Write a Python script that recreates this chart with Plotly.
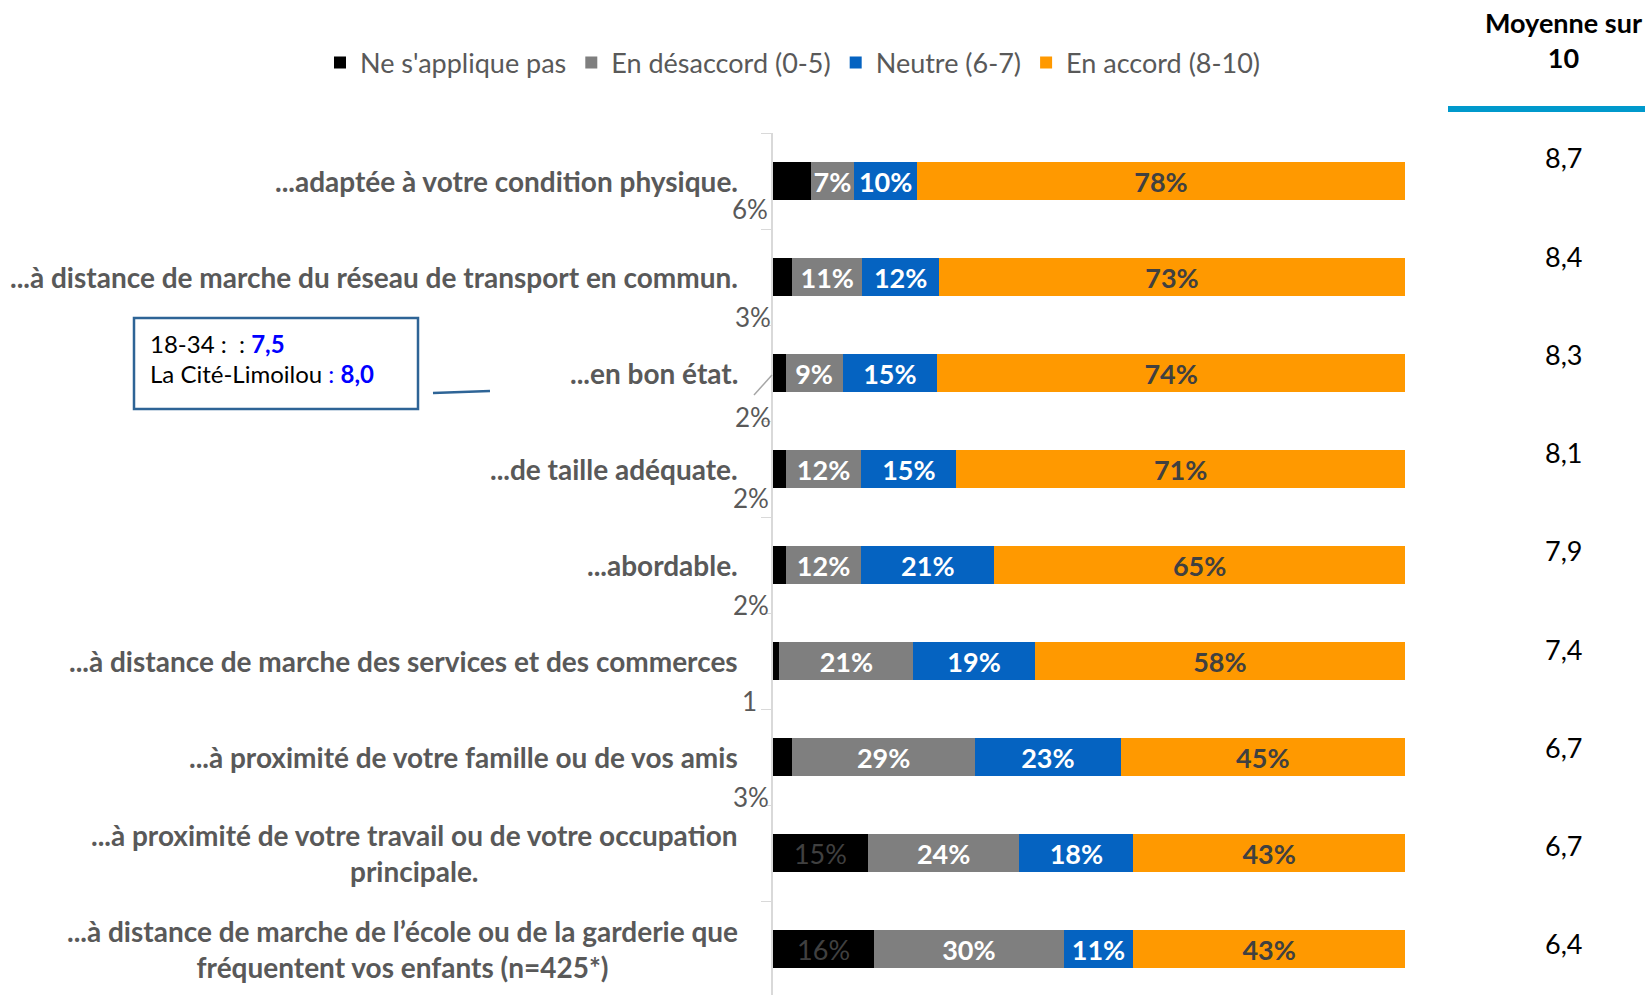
import plotly.graph_objects as go

W, H = 1645, 995

categories = [
    "...adaptée à votre condition physique.",
    "...à distance de marche du réseau de transport en commun.",
    "...en bon état.",
    "...de taille adéquate.",
    "...abordable.",
    "...à distance de marche des services et des commerces",
    "...à proximité de votre famille ou de vos amis",
    "...à proximité de votre travail ou de votre occupation<br>principale.",
    "...à distance de marche de l’école ou de la garderie que<br>fréquentent vos enfants (n=425*)",
]
ne_applique_pas = [6, 3, 2, 2, 2, 1, 3, 15, 16]
en_desaccord = [7, 11, 9, 12, 12, 21, 29, 24, 30]
neutre = [10, 12, 15, 15, 21, 19, 23, 18, 11]
en_accord = [78, 73, 74, 71, 65, 58, 45, 43, 43]
moyenne = ["8,7", "8,4", "8,3", "8,1", "7,9", "7,4", "6,7", "6,7", "6,4"]
# labels of the black segment shown outside the bar (as in the source)
ne_outside_labels = ["6%", "3%", "2%", "2%", "2%", "1", "3%", "", ""]
ne_inside_labels = ["", "", "", "", "", "", "", "15%", "16%"]

series_names = ["Ne s'applique pas", "En désaccord (0-5)", "Neutre (6-7)", "En accord (8-10)"]
colors = ["#000000", "#7F7F7F", "#0563C1", "#FF9900"]

FONT = "Lato"
GREY_TXT = "#595959"


def px(x):
    return x / W


def py(y):
    return 1 - y / H


fig = go.Figure()

data = [ne_applique_pas, en_desaccord, neutre, en_accord]
texts = [
    ne_inside_labels,
    [f"{v}%" for v in en_desaccord],
    [f"{v}%" for v in neutre],
    [f"{v}%" for v in en_accord],
]
txt_fonts = [
    dict(family=FONT, size=27, color="#404040"),
    dict(family=FONT, size=27, color="white"),
    dict(family=FONT, size=27, color="white"),
    dict(family=FONT, size=27, color="#404040"),
]
for i, (name, vals) in enumerate(zip(series_names, data)):
    fig.add_trace(go.Bar(
        y=categories, x=vals, name=name, orientation="h",
        marker=dict(color=colors[i], line=dict(width=0)),
        text=texts[i], textposition="inside", insidetextanchor="middle",
        textangle=0, constraintext="none",
        texttemplate=("%{text}" if i == 0 else "<b>%{text}</b>"),
        insidetextfont=txt_fonts[i],
        hoverinfo="skip",
    ))

plot_top = 133
fig.update_layout(
    width=W, height=H,
    barmode="stack", barnorm="percent", bargap=0.6,
    margin=dict(l=0, r=0, t=0, b=0),
    paper_bgcolor="white", plot_bgcolor="white",
    font=dict(family=FONT, color=GREY_TXT),
    showlegend=True,
    legend=dict(
        orientation="h", x=px(793), xanchor="center", y=py(63), yanchor="middle",
        font=dict(family=FONT, size=27, color=GREY_TXT), traceorder="normal",
        itemclick=False, bgcolor="rgba(0,0,0,0)",
    ),
    xaxis=dict(domain=[px(773), px(1405)], range=[0, 100], visible=False),
    yaxis=dict(
        domain=[0, py(plot_top)], type="category", categoryarray=categories,
        range=[(H - plot_top) / 96 - 0.5, -0.5],
        showticklabels=False, showline=True, linecolor="#D9D9D9", linewidth=1.5,
        ticks="outside", tickson="boundaries", ticklen=10, tickcolor="#D9D9D9",
        showgrid=False, zeroline=False,
    ),
)

annotations = []
# category labels
for cat in categories:
    annotations.append(dict(
        x=px(740), xref="paper", y=cat, yref="y", xanchor="right", yanchor="middle",
        text=f"<b>{cat}</b>", showarrow=False, align="center",
        font=dict(family=FONT, size=28, color=GREY_TXT),
    ))

# outside labels for the black segment
out_x = [770, 773, 773, 771, 771, 759, 771]
out_dy = [28, 40, 44, 29, 40, 40, 40]
for i, lab in enumerate(ne_outside_labels):
    if not lab:
        continue
    annotations.append(dict(
        x=px(out_x[i]), xref="paper", y=categories[i], yref="y", yshift=-out_dy[i],
        xanchor="right", yanchor="middle", text=lab, showarrow=False,
        font=dict(family=FONT, size=26, color=GREY_TXT),
    ))

# "Moyenne sur 10" column
annotations.append(dict(
    x=px(1563), xref="paper", y=py(40), yref="paper", xanchor="center", yanchor="middle",
    text="<b>Moyenne sur<br>10</b>", showarrow=False, align="center",
    font=dict(family=FONT, size=27, color="#000000"),
))
for i, m in enumerate(moyenne):
    annotations.append(dict(
        x=px(1563), xref="paper", y=py(158 + i * 98.2), yref="paper",
        xanchor="center", yanchor="middle", text=m, showarrow=False,
        font=dict(family=FONT, size=27, color="#000000"),
    ))

# callout box text
annotations.append(dict(
    x=px(148), xref="paper", y=py(343), yref="paper", xanchor="left", yanchor="middle",
    text="18-34 :  : <b><span style='color:#0000FF'>7,5</span></b>", showarrow=False,
    font=dict(family=FONT, size=24, color="#000000"),
))
annotations.append(dict(
    x=px(148), xref="paper", y=py(374), yref="paper", xanchor="left", yanchor="middle",
    text="La Cité-Limoilou <span style='color:#0000FF'>: <b>8,0</b></span>", showarrow=False,
    font=dict(family=FONT, size=24, color="#000000"),
))
fig.update_layout(annotations=annotations)

shapes = [
    # blue rule under header
    dict(type="line", xref="paper", yref="paper", x0=px(1448), x1=px(1645),
         y0=py(109), y1=py(109), line=dict(color="#0099CC", width=6)),
    # callout box
    dict(type="rect", xref="paper", yref="paper", x0=px(134), x1=px(418),
         y0=py(318), y1=py(409), line=dict(color="#2E6496", width=2.5)),
    dict(type="line", xref="paper", yref="paper", x0=px(433), x1=px(490),
         y0=py(393), y1=py(391), line=dict(color="#2E6496", width=2.5)),
    # leader line for row 3 label
    dict(type="line", xref="paper", yref="paper", x0=px(772), x1=px(754),
         y0=py(375), y1=py(395), line=dict(color="#A6A6A6", width=1.5)),
]
fig.update_layout(shapes=shapes)

fig.write_html(
    "out.html",
    config={"displayModeBar": False},
    post_script="document.body.style.margin='0';document.body.style.overflow='hidden';",
)
